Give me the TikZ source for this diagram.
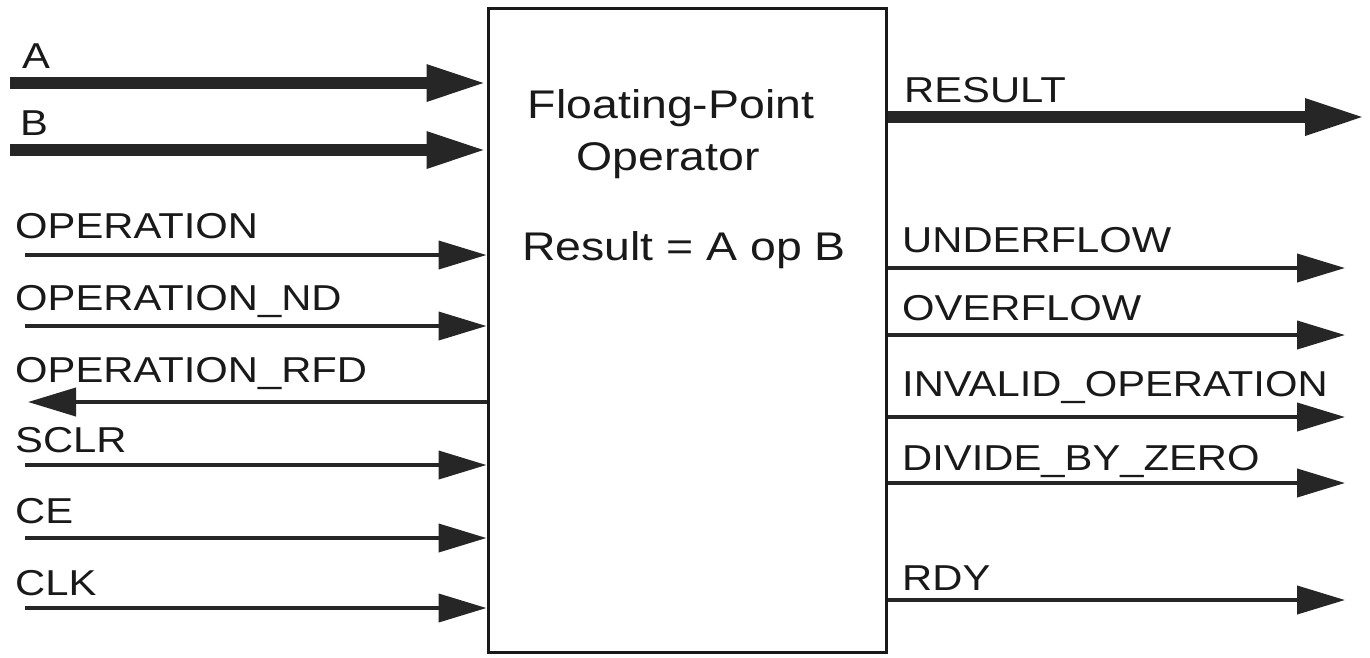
\documentclass[tikz,border=0pt]{standalone}
\usepackage{fontspec}
\setmainfont{Liberation Sans}
\newfontfamily\lblfont[FakeStretch=1.16]{Liberation Sans}
\usetikzlibrary{arrows.meta}
\begin{document}
\begin{tikzpicture}[x=1pt,y=-1pt,
  thickbus/.style={line width=12pt,draw=black!85,-{Triangle[length=60pt,width=34pt]}},
  thinsig/.style={line width=4pt,draw=black!85,-{Triangle[length=48pt,width=28pt]}},
  lbl/.style={anchor=base west,inner sep=0pt,font=\lblfont\fontsize{36}{40}\selectfont,text=black!90},
  ctr/.style={anchor=base,inner sep=0pt,font=\lblfont\fontsize{40}{44}\selectfont,text=black!90},
  opbox/.style={draw=black!90,line width=3pt,minimum width=398pt,minimum height=644pt,inner sep=0pt}]
\useasboundingbox (0,0) rectangle (1370,657);
\node[opbox] (op) at (687,330) {};
% centre text
\node[ctr] (t1) at (671,118) {Floating-Point};
\node[ctr] (t2) at (668,170) {Operator};
\node[ctr] (t3) at (684,260) {Result = A op B};
% inputs
\coordinate (inA) at (10,83);
\coordinate (inB) at (10,150);
\coordinate (inOp) at (25,255);
\coordinate (inNd) at (25,326);
\coordinate (outRfd) at (28,402);
\coordinate (inSclr) at (25,465);
\coordinate (inCe) at (25,538);
\coordinate (inClk) at (25,608);
\draw[thickbus] (inA) -- (inA -| op.west);
\draw[thickbus] (inB) -- (inB -| op.west);
\draw[thinsig] (inOp) -- (inOp -| op.west);
\draw[thinsig] (inNd) -- (inNd -| op.west);
\draw[thinsig] (outRfd -| op.west) -- (outRfd);
\draw[thinsig] (inSclr) -- (inSclr -| op.west);
\draw[thinsig] (inCe) -- (inCe -| op.west);
\draw[thinsig] (inClk) -- (inClk -| op.west);
\node[lbl] (lA) at (22,68) {A};
\node[lbl] (lB) at (20,135) {B};
\node[lbl] (lOp) at (15,238) {OPERATION};
\node[lbl] (lNd) at (15,310) {OPERATION\_ND};
\node[lbl] (lRfd) at (15,382) {OPERATION\_RFD};
\node[lbl] (lSclr) at (15,452) {SCLR};
\node[lbl] (lCe) at (15,523) {CE};
\node[lbl] (lClk) at (15,595) {CLK};
% outputs
\coordinate (oRes) at (1365,117);
\coordinate (oUf) at (1345,268);
\coordinate (oOf) at (1345,335);
\coordinate (oInv) at (1345,417);
\coordinate (oDiv) at (1345,483);
\coordinate (oRdy) at (1345,600);
\draw[thickbus] (oRes -| op.east) -- (oRes);
\draw[thinsig] (oUf -| op.east) -- (oUf);
\draw[thinsig] (oOf -| op.east) -- (oOf);
\draw[thinsig] (oInv -| op.east) -- (oInv);
\draw[thinsig] (oDiv -| op.east) -- (oDiv);
\draw[thinsig] (oRdy -| op.east) -- (oRdy);
\node[lbl] (lRes) at (904,102) {RESULT};
\node[lbl] (lUf) at (902,252) {UNDERFLOW};
\node[lbl] (lOf) at (902,320) {OVERFLOW};
\node[lbl] (lInv) at (902,396) {INVALID\_OPERATION};
\node[lbl] (lDiv) at (902,470) {DIVIDE\_BY\_ZERO};
\node[lbl] (lRdy) at (902,590) {RDY};
\end{tikzpicture}
\end{document}
